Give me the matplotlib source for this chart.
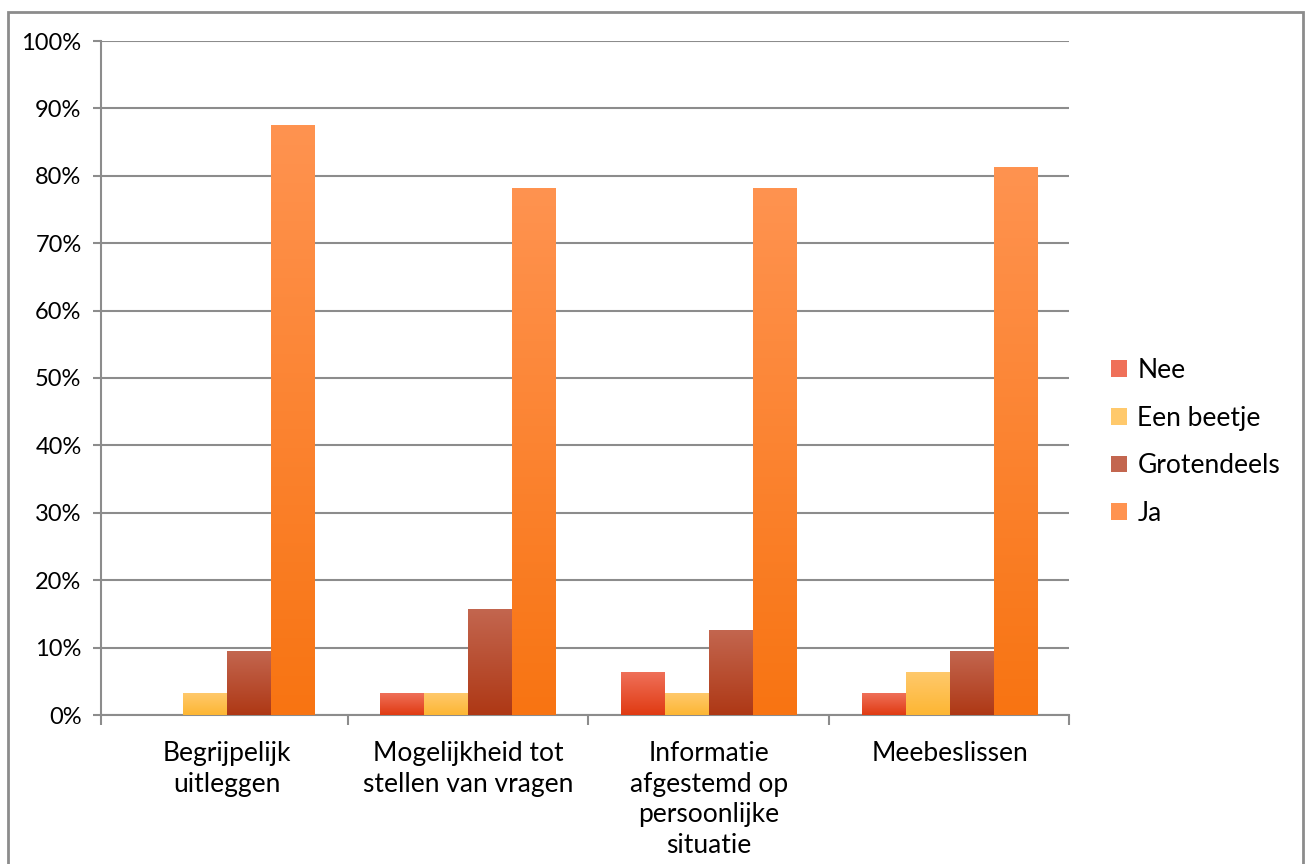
import numpy as np
import matplotlib.pyplot as plt
from matplotlib.colors import LinearSegmentedColormap
from matplotlib.patches import Rectangle

categories = ['Begrijpelijk\nuitleggen', 'Mogelijkheid tot\nstellen van vragen',
              'Informatie\nafgestemd op\npersoonlijke\nsituatie', 'Meebeslissen']
series = ['Nee', 'Een beetje', 'Grotendeels', 'Ja']
nee = [0.0, 3.125, 6.25, 3.125]
een_beetje = [3.125, 3.125, 3.125, 6.25]
grotendeels = [9.375, 15.625, 12.5, 9.375]
ja = [87.5, 78.125, 78.125, 81.25]
values = [nee, een_beetje, grotendeels, ja]

# (top colour, bottom colour) for the vertical gradient of each series
shades = [('#EF7059', '#E03A12'),
          ('#FFC96C', '#FDB633'),
          ('#C3664F', '#AE3815'),
          ('#FF9350', '#F87412')]

plt.rcParams['font.family'] = ['Lato', 'DejaVu Sans']
grid_col = '#8c8c8c'

fig = plt.figure(figsize=(13.09, 8.64), dpi=100)
ax = fig.add_axes([101/1309, 1 - 715/864, (1069 - 101)/1309, (715 - 41)/864])

n = len(series)
width = 1 / (n + 1.5)
x = np.arange(len(categories))
grad = np.linspace(1, 0, 256).reshape(-1, 1)

for i, (name, vals) in enumerate(zip(series, values)):
    cmap = LinearSegmentedColormap.from_list(name, [shades[i][1], shades[i][0]])
    offs = x + (i - (n - 1) / 2) * width
    for xc, v in zip(offs, vals):
        if v <= 0:
            continue
        ax.imshow(grad, cmap=cmap, aspect='auto', vmin=0, vmax=1,
                  extent=(xc - width / 2, xc + width / 2, 0, v), zorder=3,
                  interpolation='bilinear')

xmin, xmax = -0.523, len(categories) - 0.506
ax.set_xlim(xmin, xmax)
ax.set_ylim(0, 100)

ax.set_yticks(np.arange(0, 101, 10))
ax.set_yticklabels([f'{t}%' for t in range(0, 101, 10)])
ax.yaxis.grid(True, color=grid_col, linewidth=1.5)
ax.set_axisbelow(True)

ax.set_xticks([xmin] + list(np.arange(0.5, len(categories) - 1, 1)) + [xmax])
ax.set_xticklabels([])
ax.set_xticks(x, minor=True)
ax.set_xticklabels(categories, minor=True, fontsize=19, linespacing=1.27)
ax.tick_params(axis='x', which='minor', length=0, pad=19)
ax.tick_params(axis='x', which='major', length=7, width=1.5, color=grid_col,
               direction='out')
ax.tick_params(axis='y', length=6, width=1.5, color=grid_col, labelsize=17,
               pad=8)

for s in ('top', 'right'):
    ax.spines[s].set_visible(False)
for s in ('left', 'bottom'):
    ax.spines[s].set_color(grid_col)
    ax.spines[s].set_linewidth(1.5)

handles = [Rectangle((0, 0), 1, 1, facecolor=c[0]) for c in shades]
fig.legend(handles, series, loc='center left',
           bbox_to_anchor=(1111/1309, 1 - 442/864), borderaxespad=0,
           borderpad=0, frameon=False, fontsize=19, handlelength=0.6,
           handleheight=0.6, handletextpad=0.4, labelspacing=0.86)

fig.patches.append(Rectangle((8/1309, -0.05), (1303 - 8)/1309, 1.05 - 12/864,
                             transform=fig.transFigure, fill=False,
                             edgecolor=grid_col, linewidth=2))

fig.savefig('out.png', dpi=100)
